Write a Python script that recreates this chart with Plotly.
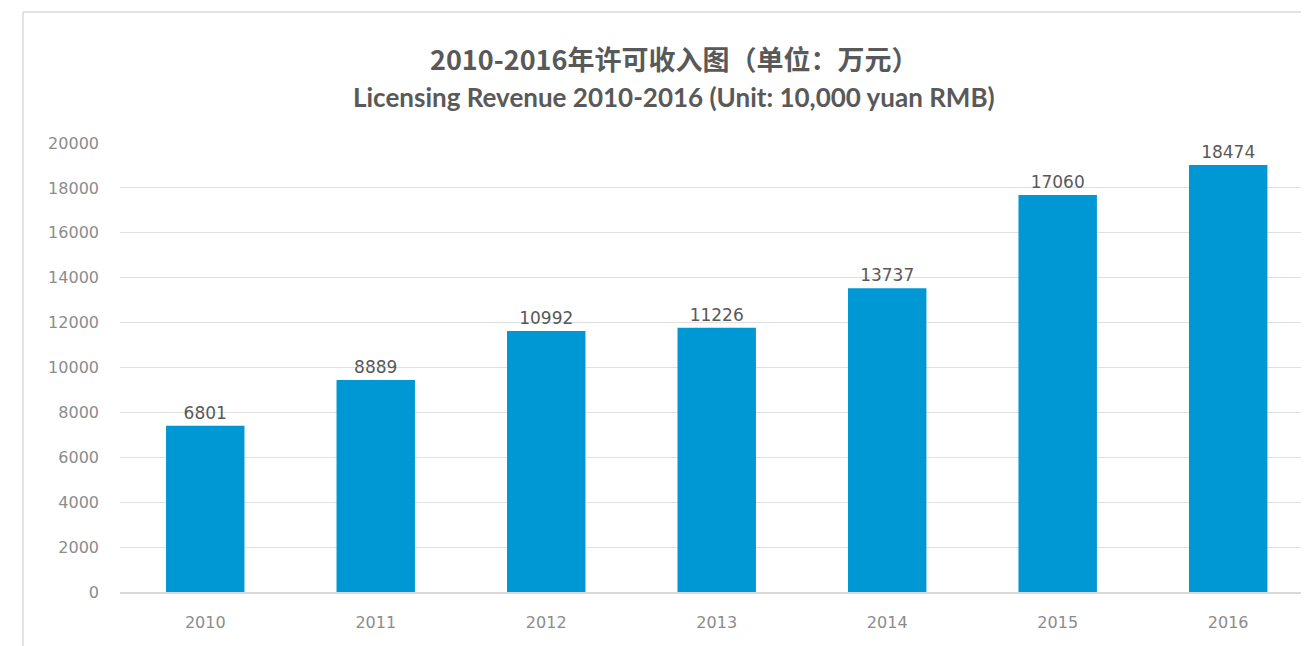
import plotly.graph_objects as go

# data
years = ["2010", "2011", "2012", "2013", "2014", "2015", "2016"]
bar_heights = [7410, 9440, 11630, 11770, 13530, 17680, 19020]  # bar tops as drawn
bar_labels = ["6801", "8889", "10992", "11226", "13737", "17060", "18474"]  # printed labels
y_ticks = [0, 2000, 4000, 6000, 8000, 10000, 12000, 14000, 16000, 18000, 20000]

title_cn = "2010-2016年许可收入图（单位：万元）"
title_en = "Licensing Revenue 2010-2016 (Unit: 10,000 yuan RMB)"

# page body adds 8px, so figure is a bit smaller than the window
W, H = 1301, 638
ml, mr, mt, mb = 112, 0, 135, 54
pw, ph = W - ml - mr, H - mt - mb

fig = go.Figure()

fig.add_trace(go.Bar(
    x=years,
    y=bar_heights,
    text=bar_labels,
    textposition="outside",
    textfont=dict(family="DejaVu Sans", size=17, color="#595959"),
    marker=dict(color="#0098d4", line=dict(width=0)),
    cliponaxis=False,
    hoverinfo="x+text",
))

# light frame round the chart (top and left edges)
fx = (15 - ml) / pw
fy = (H - mb - 4) / ph
fig.add_shape(type="line", xref="paper", yref="paper", x0=fx, x1=fx, y0=-0.2, y1=fy,
              line=dict(color="#d9d9d9", width=1.5))
fig.add_shape(type="line", xref="paper", yref="paper", x0=fx, x1=1.0, y0=fy, y1=fy,
              line=dict(color="#d9d9d9", width=1.5))

# two-line title
tx = (666 - ml) / pw
fig.add_annotation(text="<b>" + title_cn + "</b>", xref="paper", yref="paper",
                   x=tx, y=(H - mb - 50) / ph, xanchor="center", yanchor="middle",
                   showarrow=False,
                   font=dict(family="Noto Sans CJK SC", size=27, color="#595959"))
fig.add_annotation(text="<b>" + title_en + "</b>", xref="paper", yref="paper",
                   x=tx, y=(H - mb - 89) / ph, xanchor="center", yanchor="middle",
                   showarrow=False,
                   font=dict(family="Lato", size=26, color="#595959"))

fig.update_layout(
    width=W, height=H,
    margin=dict(l=ml, r=mr, t=mt, b=mb),
    plot_bgcolor="white",
    paper_bgcolor="white",
    showlegend=False,
    bargap=0.54,
)

fig.update_xaxes(
    range=[-0.5, 6.474],
    showgrid=False,
    showline=True, linecolor="#d9d9d9", linewidth=1.5,
    ticks="", ticklabelstandoff=15,
    tickfont=dict(family="DejaVu Sans", size=16, color="#8c8c8c"),
)
fig.update_yaxes(
    range=[0, 20000],
    tickvals=y_ticks,
    tickformat="d",
    showgrid=True, gridcolor="#e0e0e0", gridwidth=1,
    zeroline=False,
    ticks="", ticklabelstandoff=20,
    tickfont=dict(family="DejaVu Sans", size=16, color="#8c8c8c"),
)

fig.write_html("out.html")
